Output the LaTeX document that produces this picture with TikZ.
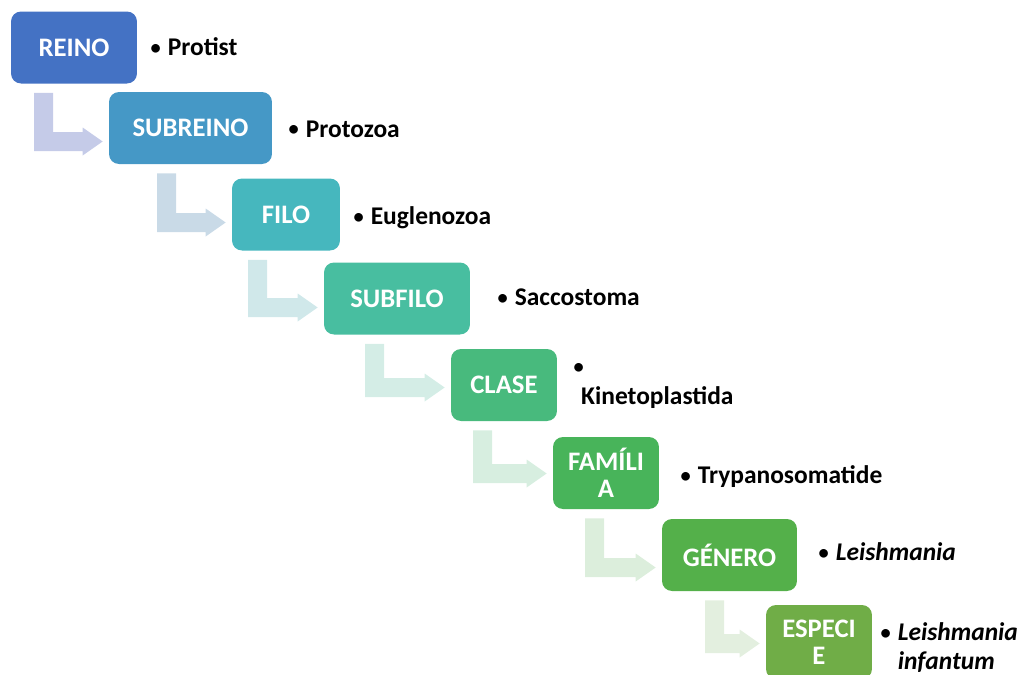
\documentclass[tikz,border=0pt]{standalone}
\usepackage{fontspec}
\usepackage{calc}
\setmainfont{Carlito}
\usetikzlibrary{calc}
\definecolor{boxA}{HTML}{4472C4}
\definecolor{boxB}{HTML}{4598C6}
\definecolor{boxC}{HTML}{46B7BE}
\definecolor{boxD}{HTML}{48BEA0}
\definecolor{boxE}{HTML}{48BA7D}
\definecolor{boxF}{HTML}{48B45A}
\definecolor{boxG}{HTML}{54B04A}
\definecolor{boxH}{HTML}{70AD47}
\definecolor{arrA}{HTML}{C5CBE8}
\definecolor{arrB}{HTML}{C9DAE7}
\definecolor{arrC}{HTML}{D0E8EA}
\definecolor{arrD}{HTML}{D4EDE6}
\definecolor{arrE}{HTML}{D7EEE0}
\definecolor{arrF}{HTML}{DCEEDC}
\definecolor{arrG}{HTML}{E3EFDF}
\newcommand{\bul}{\makebox[\widthof{•}][c]{\raisebox{0.1ex}{\scalebox{0.8}{•}}}}
% bent arrow: colour, from node, to node, bar x, bar bottom below centre of target
\newcommand{\bentarrow}[5]{%
  \coordinate (aT) at ($(#2.south)+(0,9)$);
  \coordinate (aX) at (#4,0);
  \coordinate (aB) at ($(#3.west)+(-6,#5)$);
  \fill[#1] (aX |- aT) -- ($(aX |- aT)+(19,0)$) -- ($(aX |- aB)+(19,-19)$)
    -- ($(aB)+(-20,-19)$) -- ($(aB)+(-20,-23.5)$) -- ($(aB)+(0,-9.5)$)
    -- ($(aB)+(-20,4.5)$) -- ($(aB)+(-20,0)$) -- (aX |- aB) -- cycle;}

\begin{document}
\begin{tikzpicture}[x=0.02cm, y=-0.02cm,
    rank/.style={rounded corners=0.2cm, minimum height=1.44cm, inner sep=1pt,
      text=white, align=center, font=\fontsize{15.2}{15.5}\selectfont\bfseries},
    taxon/.style={anchor=west, inner sep=0pt, align=left,
      font=\fontsize{14.5}{16.5}\selectfont\bfseries}]
			%%%%% START %%%%%
			\useasboundingbox (0,0) rectangle (1036,674);
			\clip (0,0) rectangle (1036,674);
			
			\node[rank, fill=boxA, minimum width=2.52cm] (reino) at (74,47.5) {REINO};
			\node[rank, fill=boxB, minimum width=3.26cm] (subreino) at (190.5,128) {SUBREINO};
			\node[rank, fill=boxC, minimum width=2.16cm] (filo) at (286,214.5) {FILO};
			\node[rank, fill=boxD, minimum width=2.92cm] (subfilo) at (397,298.5) {SUBFILO};
			\node[rank, fill=boxE, minimum width=2.12cm] (clase) at (504,385) {CLASE};
			\node[rank, fill=boxF, minimum width=2.12cm] (familia) at (606,473) {FAMÍLI\\A};
			\node[rank, fill=boxG, minimum width=2.70cm] (genero) at (729.5,555) {GÉNERO};
			\node[rank, fill=boxH, minimum width=2.12cm, minimum height=1.48cm] (especie) at (819,642) {ESPECI\\E};
			
			\node[taxon] (protist) at (149,47) {\bul\ Protist};
			\node[taxon] (protozoa) at (287,129) {\bul\ Protozoa};
			\node[taxon] (euglenozoa) at (352,218) {\bul\ Euglenozoa};
			\node[taxon] (saccostoma) at (496,297) {\bul\ Saccostoma};
			\node[taxon] (kineto) at (572,386) {\bul\\\hspace*{5pt}Kinetoplastida};
			\node[taxon] (trypano) at (679,477) {\bul\ Trypanosomatide};
			\node[taxon] (leish) at (817,552) {\bul\ \textit{Leishmania}};
			\node[taxon] (infantum) at (879,648) {\bul\ \textit{Leishmania}\\\phantom{\bul\ }\textit{infantum}};
			
			\bentarrow{arrA}{reino}{subreino}{34}{23}
			\bentarrow{arrB}{subreino}{filo}{157}{17.5}
			\bentarrow{arrC}{filo}{subfilo}{248}{18.5}
			\bentarrow{arrD}{subfilo}{clase}{365}{12}
			\bentarrow{arrE}{clase}{familia}{473}{10}
			\bentarrow{arrF}{familia}{genero}{585}{22}
			\bentarrow{arrG}{genero}{especie}{705}{11}
			%%%%% END %%%%%
\end{tikzpicture}
\end{document}
